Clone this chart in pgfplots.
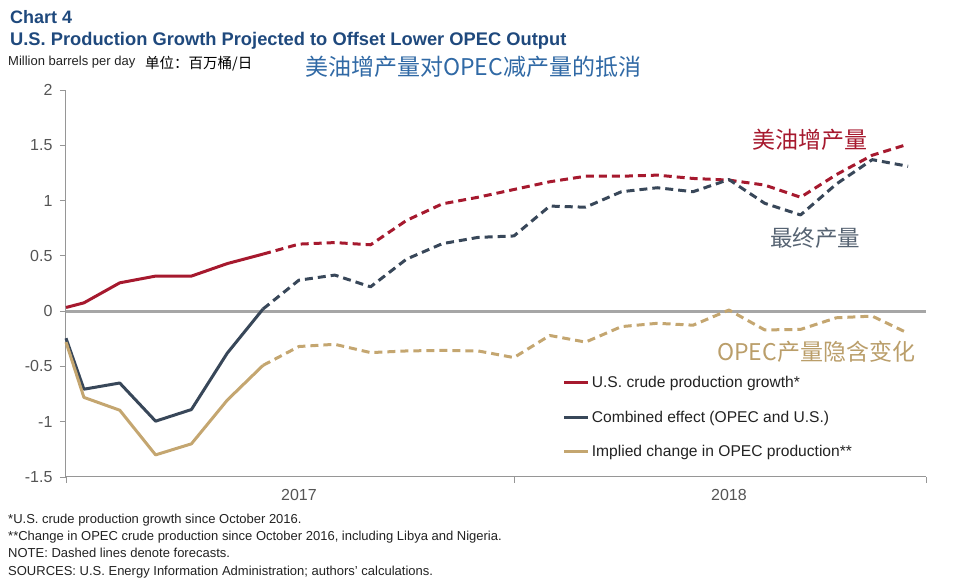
\documentclass[border=0pt]{standalone}
\usepackage{fontspec}
\setmainfont{Liberation Sans}
\newfontfamily\cjk{Noto Sans CJK SC}
\usepackage{pgfplots}
\usepackage{pgfplotstable}
\pgfplotsset{compat=1.18}

\definecolor{usred}{RGB}{166,25,46}
\definecolor{comb}{RGB}{56,71,89}
\definecolor{opec}{RGB}{196,166,112}
\definecolor{ttl}{RGB}{31,73,125}
\definecolor{cnblue}{RGB}{48,105,165}
\definecolor{txt}{RGB}{34,34,34}
\definecolor{tick}{RGB}{85,85,85}
\definecolor{zline}{RGB}{166,166,166}
\definecolor{axl}{RGB}{150,150,150}

% months from Jan 2017 (0) ; actual data
\pgfplotstableread{
m    red    comb    opec
-0.5 0.033  -0.245  -0.28
0    0.075  -0.706  -0.78
1    0.256  -0.65   -0.896
2    0.317  -0.995  -1.30
3    0.317  -0.89   -1.20
4    0.43   -0.38   -0.805
5    0.516   0.02   -0.49
}\actual

% forecasts (dashed)
\pgfplotstableread{
m    red    comb    opec
5    0.516   0.02   -0.49
6    0.606   0.28   -0.32
7    0.62    0.326  -0.30
8    0.60    0.22   -0.375
9    0.82    0.47   -0.36
10   0.97    0.61   -0.355
11   1.03    0.667  -0.36
12   1.10    0.68   -0.42
13   1.17    0.95   -0.22
14   1.22    0.94   -0.28
15   1.22    1.08   -0.14
16   1.23    1.116  -0.11
17   1.20    1.08   -0.127
18   1.185   1.19    0.01
19   1.14    0.975  -0.17
20   1.03    0.87   -0.165
21   1.235   1.15   -0.06
22   1.41    1.37   -0.045
23   1.51    1.31   -0.20
}\forecast

\begin{document}
\begin{tikzpicture}
\useasboundingbox (-66pt,-106pt) rectangle (914pt,477pt);
\begin{axis}[
  at={(0pt,0pt)}, anchor=south west,
  scale only axis, width=860pt, height=387pt,
  xmin=-0.5, xmax=23.5, ymin=-1.5, ymax=2,
  axis x line*=bottom, axis y line*=left,
  axis line style={draw=axl, line width=1pt},
  xtick={-0.5,12,23.5}, xticklabels={,,},
  ytick={-1.5,-1,-0.5,0,0.5,1,1.5,2},
  yticklabels={-1.5,-1,-0.5,0,0.5,1,1.5,2},
  tick align=outside, major tick length=6pt,
  tick style={draw=axl, line width=0.8pt},
  yticklabel style={font=\fontsize{16pt}{16pt}\selectfont, text=tick, xshift=-4pt},
  clip=false,
  legend style={at={(0.574,0.272)}, anchor=north west, draw=none, fill=none,
    font=\fontsize{15.6pt}{18pt}\selectfont, text=txt, row sep=18pt},
  legend cell align=left,
  legend image code/.code={\draw[#1, solid, line width=3pt] (0pt,0pt) -- (24pt,0pt);},
  every axis plot/.append style={line width=3pt, line join=round},
]
\addplot[zline, line width=3pt, forget plot] coordinates {(-0.5,0) (23.5,0)};

\addplot[usred] table[x=m, y=red] {\actual};
\addlegendentry{U.S. crude production growth*}
\addplot[comb] table[x=m, y=comb] {\actual};
\addlegendentry{Combined effect (OPEC and U.S.)}
\addplot[opec] table[x=m, y=opec] {\actual};
\addlegendentry{Implied change in OPEC production**}

\addplot[usred, dash pattern=on 8pt off 5pt, forget plot] table[x=m, y=red] {\forecast};
\addplot[comb, dash pattern=on 8pt off 5pt, forget plot] table[x=m, y=comb] {\forecast};
\addplot[opec, dash pattern=on 8pt off 5pt, forget plot] table[x=m, y=opec] {\forecast};

\node[anchor=north, yshift=-9pt, text=tick, font=\fontsize{16pt}{16pt}\selectfont] at (axis cs:6,-1.5) {2017};
\node[anchor=north, yshift=-9pt, text=tick, font=\fontsize{16pt}{16pt}\selectfont] at (axis cs:18,-1.5) {2018};
\end{axis}

\begin{scope}[shift={(-66pt,477pt)}, x=1pt, y=-1pt]
\node[anchor=base west, inner sep=0pt, text=ttl, font=\bfseries\fontsize{18pt}{20pt}\selectfont] at (10,24) {Chart 4};
\node[anchor=base west, inner sep=0pt, text=ttl, font=\bfseries\fontsize{18.3pt}{20pt}\selectfont] at (10,46) {U.S. Production Growth Projected to Offset Lower OPEC Output};
\node[anchor=base west, inner sep=0pt, text=txt, font=\fontsize{13pt}{14pt}\selectfont] at (8,66) {Million barrels per day};
\node[anchor=base west, inner sep=0pt, text=black, font=\cjk\fontsize{14.5pt}{16pt}\selectfont] at (145,69) {单位：百万桶/日};
\node[anchor=west, inner sep=0pt, text=cnblue, font=\cjk\fontsize{23pt}{26pt}\selectfont] at (305,67) {美油增产量对OPEC减产量的抵消};

\node[anchor=west, inner sep=0pt, text=usred, font=\cjk\fontsize{23pt}{26pt}\selectfont] at (752,140) {美油增产量};
\node[anchor=west, inner sep=0pt, text=comb!85, font=\cjk\fontsize{22.5pt}{26pt}\selectfont] at (770,238) {最终产量};
\node[anchor=west, inner sep=0pt, text=opec!95!black, font=\cjk\fontsize{23pt}{26pt}\selectfont] at (717,352) {OPEC产量隐含变化};

\begin{scope}[every node/.style={anchor=base west, inner sep=0pt, text=txt, font=\fontsize{13pt}{14pt}\selectfont}]
\node at (8,524) {*U.S. crude production growth since October 2016.};
\node at (8,541) {**Change in OPEC crude production since October 2016, including Libya and Nigeria.};
\node at (8,558) {NOTE: Dashed lines denote forecasts.};
\node at (8,576) {SOURCES: U.S. Energy Information Administration; authors' calculations.};
\end{scope}
\end{scope}
\end{tikzpicture}
\end{document}
